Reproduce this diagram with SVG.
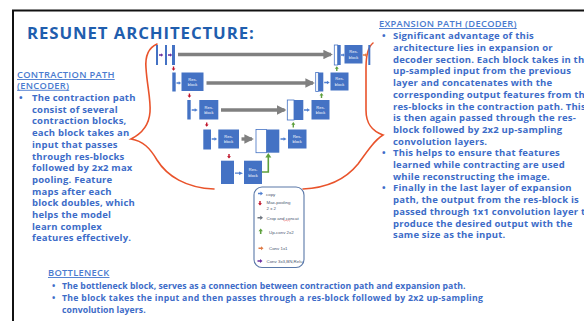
<svg xmlns="http://www.w3.org/2000/svg" width="584" height="321" viewBox="0 0 584 321">
  <style>
    .frame { fill: none; stroke: #111; stroke-width: 2; }
    .title { font-family: "Open Sans", "Liberation Sans", sans-serif; font-weight: 700; font-size: 16.8px; letter-spacing: 0.9px; fill: #1f5eae; }
    .head { font-family: "Open Sans", "Liberation Sans", sans-serif; font-weight: 600; font-size: 9.3px; letter-spacing: 0.3px; fill: #4a7bcf; text-decoration: underline; }
    .body { font-family: "Open Sans", "Liberation Sans", sans-serif; font-weight: 700; font-size: 9.5px; letter-spacing: 0.2px; fill: #3d6cc8; }
    .foot { font-family: "Open Sans", "Liberation Sans", sans-serif; font-weight: 700; font-size: 8.7px; letter-spacing: 0.05px; fill: #3d6cc8; }
    .blk { fill: #4472c4; }
    .cat { fill: #ffffff; stroke: #4472c4; stroke-width: 0.8; }
    .rb text { font-family: "Liberation Sans", sans-serif; font-size: 4px; fill: #ffffff; text-anchor: middle; }
    .skip { stroke: #808080; stroke-width: 3.4; fill: none; marker-end: url(#grayHead); }
    .brace { fill: none; stroke: #e9532b; stroke-width: 1.6; stroke-linecap: round; }
    .leg text { font-family: "Liberation Sans", sans-serif; font-size: 4.4px; fill: #4a5670; }
    .blue { fill: #4f7fd0; }
    .red { fill: #c0142a; }
    .gray { fill: #6f7680; }
    .green { fill: #5ea03c; }
    .orange { fill: #e07a45; }
    .purple { fill: #6b2fa0; }
  </style>
  <defs>
    <!-- small block arrow pointing right, 10 x 8 units -->
    <path id="ar" d="M0,2.6 H5 V0 L10,4 L5,8 V5.4 H0 Z"/>
    <!-- small block arrow pointing up -->
    <path id="au" d="M2.6,10 V5 H0 L4,0 L8,5 H5.4 V10 Z"/>
    <!-- small block arrow pointing down -->
    <path id="ad" d="M2.6,0 V5 H0 L4,10 L8,5 H5.4 V0 Z"/>
    <marker id="grayHead" viewBox="0 0 10 10" refX="8" refY="5" markerWidth="2.8" markerHeight="2.8" orient="auto" markerUnits="strokeWidth">
      <path d="M0,0 L10,5 L0,10 Z" fill="#808080"/>
    </marker>
  </defs>

  <rect width="584" height="321" fill="#ffffff"/>
  <!-- slide frame -->
  <path class="frame" d="M13,322 V10.5 H585"/>

  <!-- headings and text columns -->
  <text class="title" x="27" y="38.5">RESUNET ARCHITECTURE:</text>

  <g id="encoder-text">
    <text class="head" x="17" y="78">CONTRACTION PATH</text>
    <text class="head" x="17" y="88.8">(ENCODER)</text>
    <text class="body" x="19" y="101">•</text>
    <text class="body" x="32" y="101">The contraction path</text>
    <text class="body" x="32" y="112.7">consist of several</text>
    <text class="body" x="32" y="124.4">contraction blocks,</text>
    <text class="body" x="32" y="136.1">each block takes an</text>
    <text class="body" x="32" y="147.8">input that passes</text>
    <text class="body" x="32" y="159.5">through res-blocks</text>
    <text class="body" x="32" y="171.2">followed by 2x2 max</text>
    <text class="body" x="32" y="182.9">pooling. Feature</text>
    <text class="body" x="32" y="194.6">maps after each</text>
    <text class="body" x="32" y="206.3">block doubles, which</text>
    <text class="body" x="32" y="218">helps the model</text>
    <text class="body" x="32" y="229.7">learn complex</text>
    <text class="body" x="32" y="241.4">features effectively.</text>
  </g>

  <g id="decoder-text">
    <text class="head" x="379" y="27">EXPANSION PATH (DECODER)</text>
    <text class="body" x="382" y="39.3">•</text>
    <text class="body" x="393" y="39.3">Significant advantage of this</text>
    <text class="body" x="393" y="51">architecture lies in expansion or</text>
    <text class="body" x="393" y="62.7">decoder section. Each block takes in the</text>
    <text class="body" x="393" y="74.4">up-sampled input from the previous</text>
    <text class="body" x="393" y="86.1">layer and concatenates with the</text>
    <text class="body" x="393" y="97.8">corresponding output features from the</text>
    <text class="body" x="393" y="109.5">res-blocks in the contraction path. This</text>
    <text class="body" x="393" y="121.2">is then again passed through the res-</text>
    <text class="body" x="393" y="132.9">block followed by 2x2 up-sampling</text>
    <text class="body" x="393" y="144.6">convolution layers.</text>
    <text class="body" x="382" y="156.3">•</text>
    <text class="body" x="393" y="156.3">This helps to ensure that features</text>
    <text class="body" x="393" y="168">learned while contracting are used</text>
    <text class="body" x="393" y="179.7">while reconstructing the image.</text>
    <text class="body" x="382" y="191.4">•</text>
    <text class="body" x="393" y="191.4">Finally in the last layer of expansion</text>
    <text class="body" x="393" y="203.1">path, the output from the res-block is</text>
    <text class="body" x="393" y="214.8">passed through 1x1 convolution layer to</text>
    <text class="body" x="393" y="226.5">produce the desired output with the</text>
    <text class="body" x="393" y="238.2">same size as the input.</text>
  </g>

  <g id="bottleneck-text">
    <text class="head" x="48" y="276">BOTTLENECK</text>
    <text class="foot" x="52" y="289">•</text>
    <text class="foot" x="62" y="289">The bottleneck block, serves as a connection between contraction path and expansion path.</text>
    <text class="foot" x="52" y="301">•</text>
    <text class="foot" x="62" y="301" textLength="421" lengthAdjust="spacing">The block takes the input and then passes through a res-block followed by 2x2 up-sampling</text>
    <text class="foot" x="62" y="313">convolution layers.</text>
  </g>

  <!-- curly braces grouping the two paths -->
  <g id="braces">
    <path class="brace" d="M157,44 C148,48 145,56 146,68 C147,85 151,100 150,112 C149,126 141,134 131,139 C143,141 150,148 157,160 C167,176 186,188 214,189"/>
    <path class="brace" d="M373,43 C368,47 366,56 366,68 L366,110 C366,124 372,131 383,135 C375,140 368,150 358,164 C345,180 325,188 303,189"/>
  </g>

  <!-- skip connections (crop and concat) -->
  <g id="connectors">
    <line class="skip" x1="178" y1="54.5" x2="331" y2="54.5"/>
    <line class="skip" x1="206.5" y1="83" x2="313" y2="83"/>
    <line class="skip" x1="221" y1="110" x2="284.5" y2="110"/>
    <line class="skip" x1="241.5" y1="139" x2="252" y2="139"/>
    <!-- bottleneck up-conv elbow -->
    <path d="M262,172 H268.3 V157" fill="none" stroke="#5ea03c" stroke-width="1.6"/>
    <path d="M265.3,157.5 L268.3,153 L271.3,157.5 Z" class="green"/>
  </g>

  <!-- level 1 -->
  <g id="level1">
    <rect class="blk" x="156" y="45" width="2" height="20"/>
    <use href="#ar" class="purple" transform="translate(159,53.2) scale(0.42,0.45)"/>
    <rect class="blk" x="165" y="45" width="2" height="20"/>
    <use href="#ar" class="purple" transform="translate(168,53.2) scale(0.42,0.45)"/>
    <rect class="blk" x="172" y="45" width="3" height="20"/>

    <rect class="cat" x="334.3" y="45" width="3.4" height="20"/>
    <rect class="blk" x="337.7" y="45" width="3" height="20"/>
    <use href="#ar" class="blue" transform="translate(341,53.2) scale(0.38,0.45)"/>
    <g class="rb">
      <rect class="blk" x="344.5" y="45" width="18" height="18.5"/>
      <text x="353.5" y="53">Res-</text>
      <text x="353.5" y="58.5">block</text>
    </g>
    <use href="#ar" class="orange" transform="translate(362.8,53.2) scale(0.45,0.45)"/>
    <rect class="blk" x="368.3" y="45" width="2" height="20"/>
    <use href="#au" class="green" transform="translate(334.8,66.3) scale(0.5,0.48)"/>
  </g>

  <!-- level 2 -->
  <g id="level2">
    <use href="#ad" class="red" transform="translate(171.6,66.5) scale(0.48,0.42)"/>
    <rect class="blk" x="172.3" y="72.5" width="3.4" height="19"/>
    <use href="#ar" class="blue" transform="translate(176.5,81.2) scale(0.45,0.45)"/>
    <g class="rb">
      <rect class="blk" x="181.5" y="72.5" width="22" height="18.5"/>
      <text x="192.5" y="80.5">Res-</text>
      <text x="192.5" y="86">block</text>
    </g>

    <rect class="cat" x="315.7" y="72.5" width="2.6" height="19"/>
    <rect class="blk" x="318.3" y="72.5" width="5" height="19"/>
    <use href="#ar" class="blue" transform="translate(324.2,80.7) scale(0.55,0.45)"/>
    <g class="rb">
      <rect class="blk" x="330.5" y="72.5" width="18" height="18"/>
      <text x="339.5" y="80.3">Res-</text>
      <text x="339.5" y="85.8">block</text>
    </g>
    <use href="#au" class="green" transform="translate(319.5,93) scale(0.5,0.5)"/>
  </g>

  <!-- level 3 -->
  <g id="level3">
    <use href="#ad" class="red" transform="translate(187.5,93.5) scale(0.48,0.42)"/>
    <rect class="blk" x="187.3" y="100" width="3.4" height="19.5"/>
    <use href="#ar" class="blue" transform="translate(191.7,108.2) scale(0.6,0.45)"/>
    <g class="rb">
      <rect class="blk" x="199.3" y="100" width="19" height="19.5"/>
      <text x="208.8" y="108.5">Res-</text>
      <text x="208.8" y="114">block</text>
    </g>

    <rect class="cat" x="287.3" y="100" width="6.7" height="20"/>
    <rect class="blk" x="294" y="100" width="9.3" height="20"/>
    <use href="#ar" class="blue" transform="translate(304,108.2) scale(0.6,0.45)"/>
    <g class="rb">
      <rect class="blk" x="311.5" y="100" width="18" height="19.5"/>
      <text x="320.5" y="108.5">Res-</text>
      <text x="320.5" y="114">block</text>
    </g>
    <use href="#au" class="green" transform="translate(291.3,122) scale(0.5,0.55)"/>
  </g>

  <!-- level 4 -->
  <g id="level4">
    <use href="#ad" class="red" transform="translate(204.8,122.5) scale(0.48,0.42)"/>
    <rect class="blk" x="203.3" y="129.5" width="7.7" height="20"/>
    <use href="#ar" class="blue" transform="translate(211.7,137.2) scale(0.55,0.45)"/>
    <g class="rb">
      <rect class="blk" x="218.3" y="129.5" width="20.7" height="19"/>
      <text x="228.6" y="137.8">Res-</text>
      <text x="228.6" y="143.3">block</text>
    </g>

    <rect class="cat" x="256" y="129.5" width="10.5" height="23.2"/>
    <rect class="blk" x="266.5" y="129.5" width="12.8" height="23.2"/>
    <use href="#ar" class="blue" transform="translate(280.5,137.2) scale(0.6,0.45)"/>
    <g class="rb">
      <rect class="blk" x="288" y="129.5" width="18.5" height="19"/>
      <text x="297.2" y="137.8">Res-</text>
      <text x="297.2" y="143.3">block</text>
    </g>
  </g>

  <!-- bottleneck -->
  <g id="bottleneck">
    <use href="#ad" class="red" transform="translate(227,154) scale(0.5,0.45)"/>
    <rect class="blk" x="221" y="160.7" width="13" height="23.3"/>
    <use href="#ar" class="blue" transform="translate(235,171.4) scale(0.8,0.45)"/>
    <g class="rb">
      <rect class="blk" x="244" y="160.7" width="18" height="23.3"/>
      <text x="253" y="171">Res-</text>
      <text x="253" y="176.5">block</text>
    </g>
  </g>

  <!-- legend -->
  <g id="legend" class="leg">
    <rect x="254" y="187" width="50" height="80.5" rx="8" fill="#ffffff" stroke="#5a78a8" stroke-width="1.1"/>
    <use href="#ar" class="blue" transform="translate(258,191.5) scale(0.5,0.5)"/>
    <text x="266" y="195.5">copy</text>
    <use href="#ad" class="red" transform="translate(258,201) scale(0.5,0.45)"/>
    <text x="266.5" y="204">Max-pooling</text>
    <text x="266.5" y="209.5">2 x 2</text>
    <use href="#ar" class="gray" transform="translate(257.5,215.5) scale(0.55,0.55)"/>
    <text x="266.5" y="219.5">Crop and concat</text>
    <path d="M283,220.6 q0.6,-0.8 1.2,0 t1.2,0 t1.2,0 t1.2,0 t1.2,0 t1.2,0" fill="none" stroke="#e03030" stroke-width="0.4"/>
    <use href="#au" class="green" transform="translate(258.5,228.5) scale(0.55,0.55)"/>
    <text x="269" y="234">Up-conv 2x2</text>
    <use href="#ar" class="orange" transform="translate(258.5,246.3) scale(0.5,0.5)"/>
    <text x="269" y="250.3">Conv 1x1</text>
    <use href="#ar" class="purple" transform="translate(257.5,259) scale(0.5,0.5)"/>
    <text x="266.5" y="262.8">Conv 3x3,BN,Relu</text>
  </g>
</svg>
